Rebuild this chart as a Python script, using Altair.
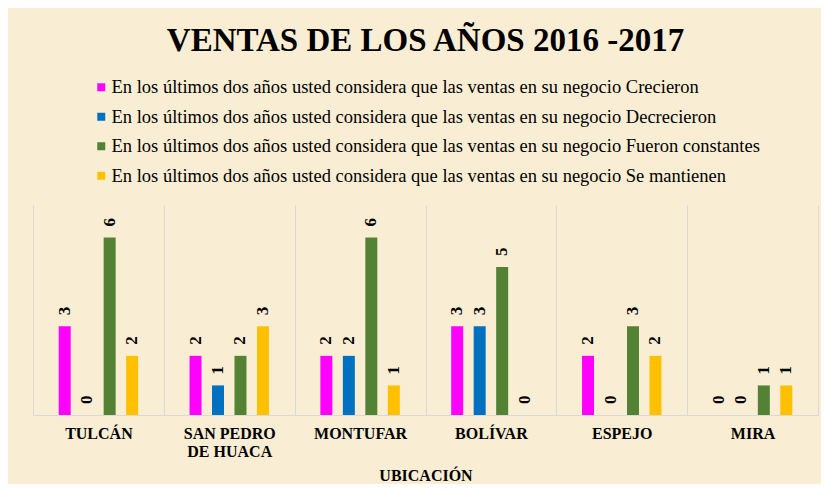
import altair as alt
import pandas as pd

cantones = ["TULCÁN", "SAN PEDRO DE HUACA", "MONTUFAR", "BOLÍVAR", "ESPEJO", "MIRA"]
prefijo = "En los últimos dos años usted considera que las ventas en su negocio "
respuestas = ["Crecieron", "Decrecieron", "Fueron constantes", "Se mantienen"]
crecieron = [3, 2, 2, 3, 2, 0]
decrecieron = [0, 1, 2, 3, 0, 0]
constantes = [6, 2, 6, 5, 3, 1]
mantienen = [2, 3, 1, 0, 2, 1]
colores = ["#ff00ff", "#0070c0", "#548235", "#ffc000"]

series = [prefijo + r for r in respuestas]
valores = [crecieron, decrecieron, constantes, mantienen]
rows = []
for s, vals in zip(series, valores):
    for c, v in zip(cantones, vals):
        rows.append({"canton": c, "serie": s, "valor": v})
df = pd.DataFrame(rows)

FONT = "Liberation Serif"

x_enc = alt.X(
    "canton:N",
    sort=cantones,
    scale=alt.Scale(paddingInner=0, paddingOuter=0),
    axis=alt.Axis(
        title="UBICACIÓN",
        labelAngle=0,
        labelFont=FONT,
        labelFontWeight="bold",
        labelFontSize=16,
        labelColor="#000000",
        labelPadding=10,
        labelLineHeight=18,
        labelExpr="datum.value == 'SAN PEDRO DE HUACA' ? ['SAN PEDRO', 'DE HUACA'] : datum.label",
        domainColor="#d9d9d9",
        ticks=False,
        grid=True,
        gridColor="#d9d9d9",
        tickBand="extent",
        titleFont=FONT,
        titleFontWeight="bold",
        titleFontSize=16,
        titleColor="#000000",
        titlePadding=8,
    ),
)
xoff = alt.XOffset("serie:N", sort=series, scale=alt.Scale(paddingInner=0, paddingOuter=0.91))
y_enc = alt.Y("valor:Q", scale=alt.Scale(domain=[0, 7.1], nice=False), axis=None)

base = alt.Chart(df).encode(x=x_enc, xOffset=xoff, y=y_enc)

bars = base.mark_bar(width=12).encode(
    color=alt.Color(
        "serie:N",
        sort=series,
        scale=alt.Scale(domain=series, range=colores),
        legend=alt.Legend(
            title=None,
            orient="none",
            legendX=59,
            legendY=-127,
            direction="vertical",
            symbolType="square",
            symbolSize=64,
            symbolStrokeWidth=0,
            labelFont=FONT,
            labelFontSize=18.5,
            labelColor="#000000",
            labelLimit=800,
            labelOffset=1,
            rowPadding=10.5,
        ),
    )
)

labels = base.mark_text(
    angle=270,
    align="left",
    baseline="middle",
    dx=11,
    font=FONT,
    fontWeight="bold",
    fontSize=17,
    color="#000000",
).encode(text="valor:Q")

chart = (
    alt.layer(bars, labels)
    .properties(
        width=785,
        height=210,
        background="#f9eed4",
        padding={"left": 25, "top": 197, "right": 3, "bottom": 69},
        autosize=alt.AutoSizeParams(type="none"),
        title=alt.TitleParams(
            "VENTAS  DE LOS AÑOS 2016 -2017",
            font=FONT,
            fontSize=33,
            fontWeight="bold",
            color="#000000",
            anchor="middle",
            frame="group",
            baseline="alphabetic",
            offset=-6,
        ),
    )
    .configure_view(stroke=None)
)

chart.save("out.html", embed_options={"renderer": "svg", "actions": False})
